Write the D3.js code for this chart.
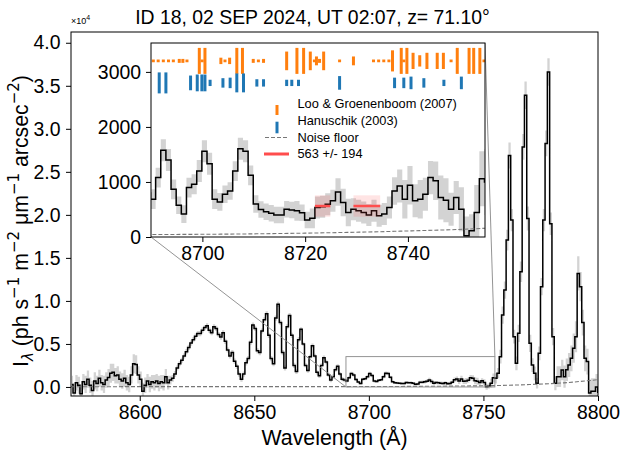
<!DOCTYPE html>
<html><head><meta charset="utf-8">
<script src="https://cdn.jsdelivr.net/npm/d3@7"></script>
<style>body{margin:0;background:#fff} svg{display:block} text{font-family:"Liberation Sans",Arial,sans-serif;fill:#000}</style>
</head><body><svg id="c" width="625" height="453"></svg>
<script>
// ---------------- data ----------------
const wlStart = 8570.4, wlStep = 1.0;   // spectral sampling grid (bin centres)
const flux = [
 300,-700,500,200,-800,600,300,900,200,-400,
 700,400,1000,500,300,800,1100,1600,1700,1300,
 1400,900,700,1000,500,300,1400,2700,2600,1400,
 900,-500,200,700,300,600,500,700,400,600,
 500,1200,500,
 800,1000,1500,2200,2700,3100,3600,4100,4600,5100,
 5500,5900,6200,6200,6600,6900,7100,6600,6300,7000,
 6800,6100,5800,6300,5300,4300,3600,4000,3000,2400,
 1500,900,1500,
 2800,3300,5200,7200,6800,4200,4000,6500,7800,8500,
 6000,3300,2700,8000,9600,7500,4000,2200,7000,8300,
 6000,2500,1800,5500,6700,5000,2500,1900,3500,4800,
 3600,1700,1300,2500,3400,2900,1400,800,1200,2000,
 2400,1500,900,800,
 687,1079,1578,1397,867,578,416,898,958,1198,
 1560,1331,687,638,777,837,1198,1602,1560,1120,
 600,500,460,430,400,400,506,490,476,440,
 307,340,536,550,596,657,819,626,446,506,
 476,446,398,476,386,416,536,837,928,687,
 940,657,687,777,1079,1024,717,667,506,717,
 506,24,114,446,1060,1000,
 1600,3520,8360,11260,17070,26900,19390,5840,2750,6230,
 13390,27900,33900,19580,5070,2550,1590,430,3910,11650,
 19390,28300,36600,18970,5840,430,1200,1200,1970,1200,
 2000,2550,3330,4500,5840,13200,11650,7480,3330,2950,
 -700,-500,-500,0,-600
];
const fluxErr = [
 1000,1100,900,1000,1100,900,1000,1000,900,1100,
 1000,900,1000,900,1000,900,1000,1100,1000,900,
 1000,900,900,1000,900,900,1000,1100,1100,1000,
 900,1000,900,800,900,800,900,800,900,800,
 900,900,800,
 500,400,350,300,300,300,300,300,300,300,
 300,300,300,300,300,300,300,300,300,300,
 300,300,300,300,300,300,300,300,300,300,
 300,300,300,300,300,300,300,300,300,300,
 300,300,300,300,300,300,300,300,300,300,
 300,300,300,300,300,300,300,250,250,250,
 250,250,250,250,250,250,250,250,250,250,
 250,250,250,250,250,250,250,
 180,180,200,200,180,160,160,180,180,200,
 200,200,180,160,160,160,180,200,200,180,
 160,150,150,150,150,150,150,150,180,150,
 150,180,200,200,200,200,250,250,250,200,
 200,200,200,200,200,200,200,250,300,350,
 350,300,350,300,300,350,400,400,300,300,
 400,350,300,500,500,600,
 600,800,1000,1000,1200,1500,1300,800,800,1000,
 1200,1500,1600,1400,1000,800,800,600,800,1000,
 1300,1500,1600,1300,1000,800,1200,1200,1200,1300,
 1300,1400,1500,1700,1800,2000,1700,1500,1500,1500,
 1500,1500,1500,1500,1500
];
const noiseWl  = [8570, 8600, 8650, 8690, 8720, 8740, 8755, 8770, 8785, 8800];
const noiseVal = [30, 35, 40, 45, 70, 110, 160, 280, 480, 850];

const looWl  = [8690.45,8691.4,8692.4,8693.4,8694.35,8695.5,8696.2,8697.0,8699.4,8699.95,8700.5,8703.6,8704.4,8705.3,8706.7,8707.8,8709.9,8710.9,8711.9,8716.4,8718.4,8719.7,8721.0,8721.8,8722.2,8722.8,8723.6,8726.7,8729.4,8733.3,8734.3,8735.3,8736.3,8737.0,8738.7,8739.2,8739.8,8741.0,8742.3,8743.7,8745.7,8746.9,8748.4,8749.6,8751.9,8752.8,8754.0,8754.8];
const looInt = [0.05,0.05,0.05,0.05,0.05,0.1,0.1,0.05,1.0,0.05,1.0,0.2,0.05,0.2,1.0,1.0,0.1,0.05,0.1,0.7,1.0,1.0,0.7,0.05,0.3,0.1,0.7,0.05,0.3,0.05,0.05,0.05,0.05,0.8,1.0,0.05,1.0,0.6,0.4,0.6,0.6,0.6,0.05,1.0,1.0,1.0,1.0,0.05];
const hanWl  = [8691.6,8692.9,8697.7,8699.0,8699.9,8700.5,8701.5,8704.0,8705.4,8706.7,8708.0,8710.6,8711.9,8716.4,8717.4,8718.7,8726.7,8737.4,8739.2,8740.6,8743.1,8747.0,8750.4];
const hanInt = [1.0,1.0,0.7,0.8,0.8,0.8,0.3,0.45,0.5,0.9,0.9,0.35,0.35,0.3,0.3,0.3,0.65,0.5,0.5,0.6,0.45,0.3,0.6];
const looLevel = 3200, hanLevel = 2800;

const bandRanges = [[8721.9, 8724.9], [8729.4, 8734.6]];
const bandMean = 563, bandSigma = 194;

const xTicksMain  = [8600, 8650, 8700, 8750, 8800];
const yTicksMain  = [0, 5000, 10000, 15000, 20000, 25000, 30000, 35000, 40000];
const xTicksInset = [8700, 8720, 8740];
const yTicksInset = [0, 1000, 2000, 3000];
const mainXlim = [8570, 8800], mainYlim = [-1050, 41250];
const insetXlim = [8690, 8755], insetYlim = [0, 3525];

const titleText = "ID 18, 02 SEP 2024, UT 02:07, z= 71.10°";
const legendLabels = ["Loo & Groenenboom (2007)", "Hanuschik (2003)", "Noise floor", `${bandMean} +/- ${bandSigma}`];

// ---------------- drawing ----------------
const svg = d3.select("#c");
const FS = 19.4, FL = 21.3;
const C_ORANGE = "#ff7f0e", C_BLUE = "#1f77b4", C_RED = "#ff4d4d", C_BAND = "#d3d3d3";
const wl = flux.map((_, i) => wlStart + i * wlStep);
const spec = flux.map((v, i) => ({x: wl[i], y: v, e: fluxErr[i]}));
const noise = noiseWl.map((x, i) => ({x, y: noiseVal[i]}));

const M = {l: 71, r: 598, t: 32, b: 396};
const I = {l: 151, r: 485, t: 43, b: 237};
const x = d3.scaleLinear().domain(mainXlim).range([M.l, M.r]);
const y = d3.scaleLinear().domain(mainYlim).range([M.b, M.t]);
const xi = d3.scaleLinear().domain(insetXlim).range([I.l, I.r]);
const yi = d3.scaleLinear().domain(insetYlim).range([I.b, I.t]);

const defs = svg.append("defs");
defs.append("clipPath").attr("id", "cm").append("rect").attr("x", M.l).attr("y", M.t).attr("width", M.r - M.l).attr("height", M.b - M.t);
defs.append("clipPath").attr("id", "ci").append("rect").attr("x", I.l).attr("y", I.t).attr("width", I.r - I.l).attr("height", I.b - I.t);

function drawSpectrum(g, xs, ys) {
  g.append("path").datum(spec)
    .attr("d", d3.area().curve(d3.curveStep).x(d => xs(d.x)).y0(d => ys(d.y - d.e)).y1(d => ys(d.y + d.e)))
    .attr("fill", C_BAND);
  g.append("path").datum(spec)
    .attr("d", d3.line().curve(d3.curveStep).x(d => xs(d.x)).y(d => ys(d.y)))
    .attr("fill", "none").attr("stroke", "#000").attr("stroke-width", 1.5);
  g.append("path").datum(noise)
    .attr("d", d3.line().curve(d3.curveMonotoneX).x(d => xs(d.x)).y(d => ys(d.y)))
    .attr("fill", "none").attr("stroke", "#777").attr("stroke-width", 1.1).attr("stroke-dasharray", "4,2");
}

// main axes
const gm = svg.append("g").attr("clip-path", "url(#cm)");
drawSpectrum(gm, x, y);
// indicator rectangle & connectors
const rx0 = x(insetXlim[0]), rx1 = x(insetXlim[1]), ry0 = y(insetYlim[0]), ry1 = y(insetYlim[1]);
svg.append("rect").attr("x", rx0).attr("y", ry1).attr("width", rx1 - rx0).attr("height", ry0 - ry1)
  .attr("fill", "none").attr("stroke", "#888").attr("stroke-width", 0.9);
svg.append("line").attr("x1", I.l).attr("y1", I.b).attr("x2", rx0).attr("y2", ry0).attr("stroke", "#888").attr("stroke-width", 0.9);
svg.append("line").attr("x1", I.r).attr("y1", I.t).attr("x2", rx1).attr("y2", ry1).attr("stroke", "#888").attr("stroke-width", 0.9);

function styleAxis(g) {
  g.select(".domain").remove();
  g.selectAll(".tick line").attr("stroke", "#000").attr("stroke-width", 1);
  g.selectAll(".tick text").style("font-size", FS + "px").style("font-family", '"Liberation Sans",Arial,sans-serif');
}
svg.append("g").attr("transform", `translate(0,${M.b})`)
  .call(d3.axisBottom(x).tickValues(xTicksMain).tickFormat(d3.format("d")).tickSize(5).tickPadding(4).tickSizeOuter(0)).call(styleAxis);
svg.append("g").attr("transform", `translate(${M.l},0)`)
  .call(d3.axisLeft(y).tickValues(yTicksMain).tickFormat(d => (d / 1e4).toFixed(1)).tickSize(5).tickPadding(5.5).tickSizeOuter(0)).call(styleAxis);
svg.append("rect").attr("x", M.l).attr("y", M.t).attr("width", M.r - M.l).attr("height", M.b - M.t)
  .attr("fill", "none").attr("stroke", "#000").attr("stroke-width", 1);

// offset text
const off = svg.append("text").attr("x", 71).attr("y", 24).style("font-size", "9px");
off.append("tspan").text("×10");
off.append("tspan").attr("dy", -4).style("font-size", "7px").text("4");

// title
svg.append("text").attr("x", 312.5).attr("y", 24).attr("text-anchor", "middle").style("font-size", FS + "px").text(titleText);
// x label
svg.append("text").attr("x", (M.l + M.r) / 2).attr("y", 445).attr("text-anchor", "middle").style("font-size", FL + "px").text("Wavelength (Å)");
// y label
const yl = svg.append("text").attr("transform", `translate(28,221) rotate(-90)`).attr("text-anchor", "middle").style("font-size", FL + "px");
const segs = [["I", 0], ["λ", -1], [" (ph s", 0], ["−1", 1], [" m", 0], ["−2", 1], [" μm", 0], ["−1", 1], [" arcsec", 0], ["−2", 1], [")", 0]];
let cur = 0;
segs.forEach(([t, k]) => {
  const target = k === 1 ? -9 : (k === -1 ? 5 : 0);
  const ts = yl.append("tspan").attr("dy", target - cur).text(t);
  if (k !== 0) ts.style("font-size", "15px").style("font-family", '"DejaVu Sans",sans-serif');
  if (k === -1) ts.style("font-style", "italic");
  cur = target;
});

// ---------------- inset ----------------
svg.append("rect").attr("x", I.l).attr("y", I.t).attr("width", I.r - I.l).attr("height", I.b - I.t).attr("fill", "#fff");
const gi = svg.append("g").attr("clip-path", "url(#ci)");
drawSpectrum(gi, xi, yi);
// red band estimate
bandRanges.forEach(([a, b]) => {
  gi.append("rect").attr("x", xi(a)).attr("width", xi(b) - xi(a))
    .attr("y", yi(bandMean + bandSigma)).attr("height", yi(bandMean - bandSigma) - yi(bandMean + bandSigma))
    .attr("fill", C_RED).attr("opacity", 0.15);
  gi.append("line").attr("x1", xi(a)).attr("x2", xi(b)).attr("y1", yi(bandMean)).attr("y2", yi(bandMean))
    .attr("stroke", C_RED).attr("stroke-width", 2.5);
});
// line catalogues
const looLen = d3.scaleLinear().domain([0, 1]).range([1.5, 26]);
const hanLen = d3.scaleLinear().domain([0, 1]).range([0, 21]);
looWl.forEach((w, i) => {
  const L = looLen(looInt[i]);
  gi.append("line").attr("x1", xi(w)).attr("x2", xi(w)).attr("y1", yi(looLevel) - L / 2).attr("y2", yi(looLevel) + L / 2)
    .attr("stroke", C_ORANGE).attr("stroke-width", 3);
});
hanWl.forEach((w, i) => {
  const L = hanLen(hanInt[i]);
  gi.append("line").attr("x1", xi(w)).attr("x2", xi(w)).attr("y1", yi(hanLevel) - L / 2).attr("y2", yi(hanLevel) + L / 2)
    .attr("stroke", C_BLUE).attr("stroke-width", 3);
});
svg.append("g").attr("transform", `translate(0,${I.b})`)
  .call(d3.axisBottom(xi).tickValues(xTicksInset).tickFormat(d3.format("d")).tickSize(5).tickPadding(4).tickSizeOuter(0)).call(styleAxis);
svg.append("g").attr("transform", `translate(${I.l},0)`)
  .call(d3.axisLeft(yi).tickValues(yTicksInset).tickFormat(d3.format("d")).tickSize(5).tickPadding(5).tickSizeOuter(0)).call(styleAxis);
svg.append("rect").attr("x", I.l).attr("y", I.t).attr("width", I.r - I.l).attr("height", I.b - I.t)
  .attr("fill", "none").attr("stroke", "#000").attr("stroke-width", 1);

// legend
const lg = svg.append("g");
const LX = 277, rows = [104, 121, 137.5, 154];
lg.append("line").attr("x1", LX).attr("x2", LX).attr("y1", rows[0] + 1).attr("y2", rows[0] + 11).attr("stroke", C_ORANGE).attr("stroke-width", 3);
lg.append("line").attr("x1", LX).attr("x2", LX).attr("y1", rows[1] + 0.7).attr("y2", rows[1] + 12.3).attr("stroke", C_BLUE).attr("stroke-width", 3);
lg.append("line").attr("x1", 265).attr("x2", 287).attr("y1", rows[2]).attr("y2", rows[2]).attr("stroke", "#777").attr("stroke-width", 1.1).attr("stroke-dasharray", "4,2");
lg.append("line").attr("x1", 264).attr("x2", 289).attr("y1", rows[3]).attr("y2", rows[3]).attr("stroke", C_RED).attr("stroke-width", 3);
legendLabels.forEach((t, i) => {
  lg.append("text").attr("x", 297.5).attr("y", rows[i]).attr("dy", "0.35em").style("font-size", "12.8px").text(t);
});
</script></body></html>
